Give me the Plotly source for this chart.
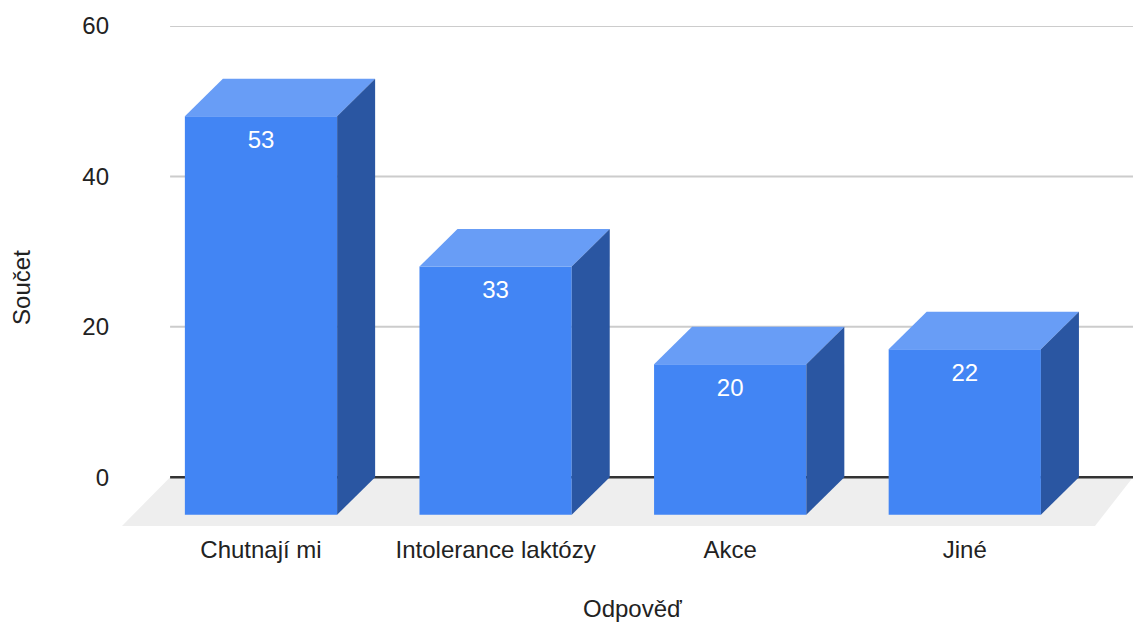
import plotly.graph_objects as go

categories = ["Chutnají mi", "Intolerance laktózy", "Akce", "Jiné"]
values = [53, 33, 20, 22]
y_ticks = [0, 20, 40, 60]
x_title = "Odpověď"
y_title = "Součet"

FRONT = "#4285f4"
TOP = "#689df6"
SIDE = "#2a56a2"
FLOOR = "#eeeeee"
FONT = "Arial, Liberation Sans, sans-serif"
FS = 24

# chart geometry in axis units
half = 0.3245
dx = 0.162
depth = 5.0
label_drop = 3.4
x_min, x_max = -0.5925, 3.717
y_min = -6.5
n = len(categories)
xs = list(range(n))

fig = go.Figure()

# floor, gridlines and base line
floor_x = [x_min, x_min + 0.205, x_max, x_max - 0.162]
floor_y = [y_min, 0, 0, y_min]
path = "M " + " L ".join(f"{a},{b}" for a, b in zip(floor_x, floor_y)) + " Z"
shapes = [dict(type="path", xref="x", yref="y", path=path, fillcolor=FLOOR,
               line=dict(width=0), layer="between")]
for t in y_ticks:
    shapes.append(dict(type="line", xref="x", yref="y", x0=x_min + 0.205, x1=x_max, y0=t, y1=t,
                       layer="between",
                       line=dict(color="#333333" if t == 0 else "#cccccc", width=2.5 if t == 0 else 2)))

# front faces
fig.add_trace(go.Bar(
    x=xs, y=values, base=-depth, width=2 * half,
    marker=dict(color=FRONT, line=dict(width=0)),
    showlegend=False))

# top and side faces
for x, v in zip(xs, values):
    fig.add_trace(go.Scatter(
        x=[x - half, x - half + dx, x + half + dx, x + half],
        y=[v - depth, v, v, v - depth],
        fill="toself", fillcolor=TOP, mode="none", hoverinfo="skip", showlegend=False))
    fig.add_trace(go.Scatter(
        x=[x + half, x + half + dx, x + half + dx, x + half],
        y=[v - depth, v, 0, -depth],
        fill="toself", fillcolor=SIDE, mode="none", hoverinfo="skip", showlegend=False))

# value labels
fig.add_trace(go.Scatter(
    x=xs, y=[v - depth - label_drop for v in values],
    mode="text", text=[str(v) for v in values], textposition="middle center",
    textfont=dict(color="white", size=FS, family=FONT),
    cliponaxis=False, hoverinfo="skip", showlegend=False))

fig.update_layout(
    width=1133, height=622,
    margin=dict(l=122, r=0, t=26, b=96, autoexpand=False),
    paper_bgcolor="white", plot_bgcolor="rgba(0,0,0,0)",
    font=dict(family=FONT, color="#222222", size=FS),
    shapes=shapes,
    xaxis=dict(range=[x_min, x_max], tickmode="array", tickvals=xs, ticktext=categories,
               showgrid=False, zeroline=False, showline=False, ticks="", automargin=False,
               ticklabelstandoff=7, tickfont=dict(size=FS)),
    yaxis=dict(range=[y_min, 60], tickmode="array", tickvals=y_ticks,
               showgrid=False, zeroline=False, showline=False, ticks="", automargin=False,
               ticklabelstandoff=12, tickfont=dict(size=FS)),
    annotations=[
        dict(text=x_title, xref="paper", yref="paper", x=0.5045, y=-0.164,
             xanchor="center", yanchor="middle", showarrow=False, font=dict(size=FS)),
        dict(text=y_title, xref="paper", yref="paper", x=-0.1, y=0.478, textangle=-90,
             xanchor="center", yanchor="middle", showarrow=False, font=dict(size=FS)),
    ],
)
fig.write_html("out.html", config=dict(displayModeBar=False),
               post_script="document.body.style.margin='0';")
